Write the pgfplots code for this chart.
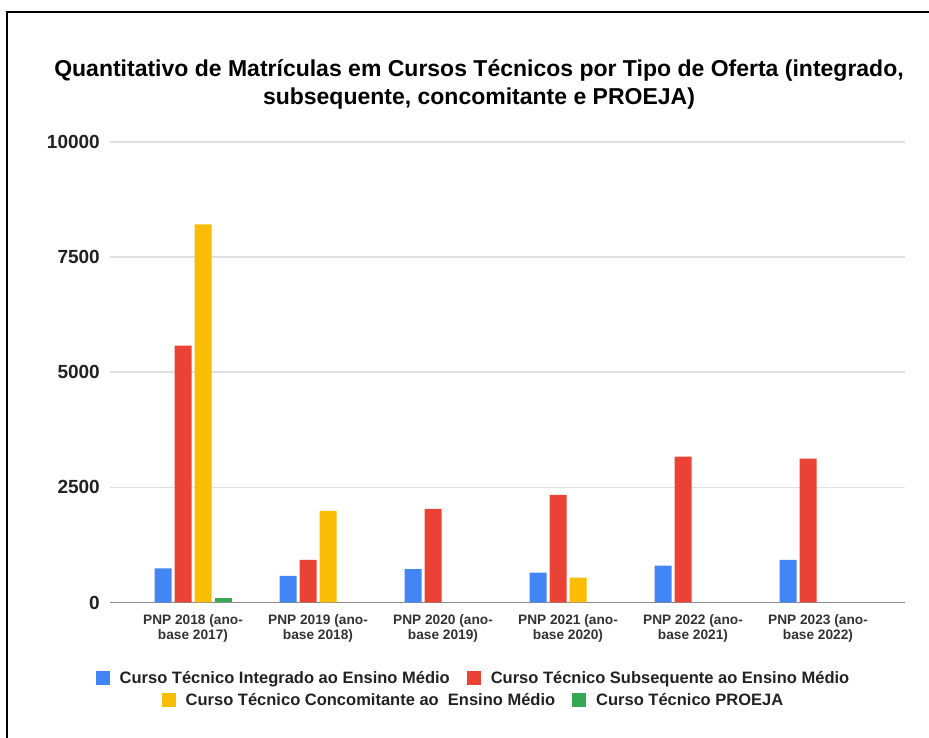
\documentclass[border=0pt]{standalone}
\usepackage{fontspec}
\setmainfont{Liberation Sans}
\usepackage{pgfplots}
\pgfplotsset{compat=1.18}

\definecolor{gblue}{HTML}{4285F4}
\definecolor{gred}{HTML}{EA4335}
\definecolor{gyellow}{HTML}{FBBC04}
\definecolor{ggreen}{HTML}{34A853}
\definecolor{txt}{HTML}{222222}

\pgfplotsset{
  barlegend/.style={
    legend image code/.code={\fill[##1] (0pt,-7pt) rectangle (14pt,7pt);},
    legend columns=2,
    legend style={anchor=center, draw=none, fill=none, inner sep=0pt,
      font=\fontsize{16.5}{19}\selectfont\bfseries, text=txt,
      nodes={inner xsep=5pt, inner ysep=2pt},
      /tikz/every odd column/.append style={column sep=5pt},
      /tikz/every even column/.append style={column sep=12pt}},
  },
  frame/.style={
    at={(110pt,135.5pt)}, anchor=south west,
    scale only axis, width=795pt, height=460.5pt,
    xmin=-0.664, xmax=5.696, ymin=0, ymax=10000,
  },
}

\begin{document}
\begin{tikzpicture}[x=1pt,y=1pt]
\useasboundingbox (0,0) rectangle (929,738);
\draw[line width=2pt] (7,0) -- (7,726) -- (929,726);

\node[align=center, font=\fontsize{23}{28}\selectfont\bfseries, text=black]
  at (479,654) {Quantitativo de Matrículas em Cursos Técnicos por Tipo de Oferta (integrado,\\
  subsequente, concomitante e PROEJA)};

\begin{axis}[frame, barlegend,
  axis lines=left, axis line style={draw=none,-},
  major tick length=0pt,
  ytick={2500,5000,7500,10000},
  ymajorgrids, grid style={color=black!12, line width=1.5pt},
  extra y ticks={0},
  extra y tick style={grid style={color=black!45, line width=1.5pt}},
  scaled y ticks=false,
  /pgf/number format/1000 sep={},
  /pgf/number format/assume math mode=true,
  yticklabel style={inner sep=0pt, xshift=-10pt,
    font=\fontsize{19}{21}\selectfont\bfseries, text=txt},
  xtick={0,...,5},
  xticklabels={{PNP 2018 (ano-\\base 2017)},{PNP 2019 (ano-\\base 2018)},
    {PNP 2020 (ano-\\base 2019)},{PNP 2021 (ano-\\base 2020)},
    {PNP 2022 (ano-\\base 2021)},{PNP 2023 (ano-\\base 2022)}},
  xticklabel style={align=center, inner sep=0pt, yshift=-11.5pt,
    font=\fontsize{13.7}{15}\selectfont\bfseries, text=black!80},
  legend style={at={(0.4591,-0.164)}},
]
\addplot[ybar, bar width=17pt, bar shift=-30pt, fill=gblue, draw=none]
  coordinates {(0,743) (1,576) (2,722) (3,648) (4,800) (5,924)};
\addlegendentry{Curso Técnico Integrado ao Ensino Médio}
\addplot[ybar, bar width=17pt, bar shift=-10pt, fill=gred, draw=none]
  coordinates {(0,5576) (1,924) (2,2033) (3,2337) (4,3170) (5,3126)};
\addlegendentry{Curso Técnico Subsequente ao Ensino Médio}
\addplot[ybar, bar width=17pt, bar shift=10pt, fill=gyellow, draw=none, forget plot]
  coordinates {(0,8210) (1,1990) (3,539)};
\addplot[ybar, bar width=17pt, bar shift=30pt, fill=ggreen, draw=none, forget plot]
  coordinates {(0,90)};
\end{axis}

\begin{axis}[frame, barlegend, hide axis,
  legend style={at={(0.4591,-0.2117)}},
]
\addlegendimage{fill=gyellow, draw=none}
\addlegendentry{Curso Técnico Concomitante ao\ \ Ensino Médio}
\addlegendimage{fill=ggreen, draw=none}
\addlegendentry{Curso Técnico PROEJA}
\end{axis}
\end{tikzpicture}
\end{document}
